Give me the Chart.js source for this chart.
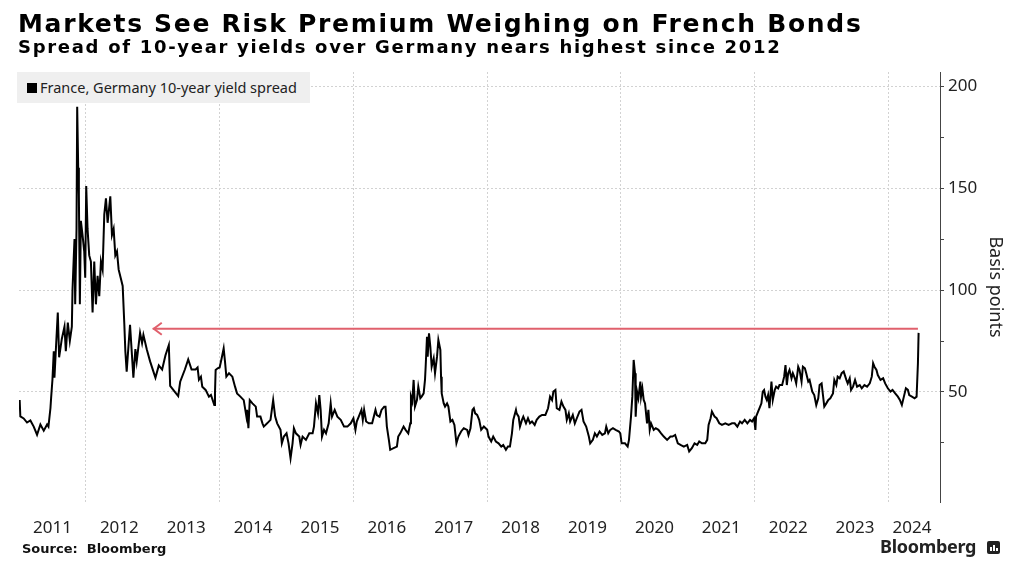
<!DOCTYPE html>
<html lang="en">
<head>
<meta charset="UTF-8">
<title>Markets See Risk Premium Weighing on French Bonds</title>
<script src="https://cdn.jsdelivr.net/npm/chart.js"></script>
<style>
  html, body { margin: 0; padding: 0; background: #fff; }
  body { width: 1024px; height: 584px; position: relative; overflow: hidden; color: #111; }
  #chart { position: absolute; left: 0; top: 0; }
  .title { position: absolute; left: 18px; top: 11px; font: bold 25px/25px "DejaVu Sans", sans-serif; letter-spacing: 1.7px; white-space: nowrap; color: #000; }
  .subtitle { position: absolute; left: 18px; top: 38px; font: bold 18px/18px "DejaVu Sans", sans-serif; letter-spacing: 1.7px; white-space: nowrap; color: #000; }
  .legend { position: absolute; left: 17px; top: 72px; width: 293px; height: 31px; background: #efefef; }
  .legend .sq { position: absolute; left: 10px; top: 11px; width: 10px; height: 10px; background: #000; }
  .legend .txt { position: absolute; left: 23px; top: 6px; font: 14.5px/18px "Noto Sans", sans-serif; color: #222; white-space: nowrap; }
  .source { position: absolute; left: 22px; top: 541px; font: bold 13px/16px "DejaVu Sans", sans-serif; color: #111; white-space: nowrap; }
  .brand { position: absolute; left: 880px; top: 535px; font: bold 18px/22px "Noto Sans", sans-serif; color: #222; white-space: nowrap; letter-spacing: -0.3px; }
  .icon { position: absolute; left: 987px; top: 541px; width: 13px; height: 13px; background: #222; border-radius: 2px; }
  .icon i { position: absolute; bottom: 3px; width: 2px; background: #fff; }
</style>
</head>
<body>
  <canvas id="chart" width="1024" height="584"></canvas>
  <div class="title">Markets See Risk Premium Weighing on French Bonds</div>
  <div class="subtitle">Spread of 10-year yields over Germany nears highest since 2012</div>
  <div class="legend"><div class="sq"></div><div class="txt">France, Germany 10-year yield spread</div></div>
  <div class="source">Source:&nbsp; Bloomberg</div>
  <div class="brand">Bloomberg</div>
  <div class="icon"><i style="left:3px;height:4px"></i><i style="left:6px;height:6px"></i><i style="left:9px;height:3px"></i></div>

<script>
// dates as decimal years, spread in basis points
var dates = [
  2011.00, 2011.01, 2011.02, 2011.07, 2011.12, 2011.17, 2011.22, 2011.27, 2011.32, 2011.37,
  2011.42, 2011.44, 2011.47, 2011.48, 2011.50, 2011.52, 2011.53, 2011.55, 2011.58, 2011.60,
  2011.64, 2011.68, 2011.70, 2011.73, 2011.76, 2011.79, 2011.80, 2011.82, 2011.83, 2011.84,
  2011.86, 2011.87, 2011.885, 2011.895, 2011.91, 2011.925, 2011.95, 2011.975, 2011.99, 2012.005,
  2012.025, 2012.05, 2012.075, 2012.10, 2012.125, 2012.15, 2012.175, 2012.20, 2012.225, 2012.25,
  2012.275, 2012.30, 2012.325, 2012.365, 2012.39, 2012.415, 2012.44, 2012.465, 2012.49, 2012.52,
  2012.55, 2012.575, 2012.59, 2012.61, 2012.64, 2012.66, 2012.71, 2012.74, 2012.76, 2012.81,
  2012.84, 2012.86, 2012.91, 2012.96, 2013.01, 2013.04, 2013.09, 2013.14, 2013.19, 2013.24,
  2013.26, 2013.33, 2013.38, 2013.41, 2013.48, 2013.53, 2013.58,
  2013.64, 2013.67, 2013.69, 2013.72, 2013.74, 2013.79, 2013.84, 2013.87, 2013.92, 2013.93,
  2013.94, 2013.97, 2014.00, 2014.03, 2014.06, 2014.08, 2014.10, 2014.14, 2014.19, 2014.23,
  2014.26, 2014.31, 2014.36, 2014.40, 2014.41, 2014.43, 2014.45, 2014.49, 2014.54, 2014.56,
  2014.61, 2014.64, 2014.66, 2014.71, 2014.76, 2014.80, 2014.83, 2014.86, 2014.91, 2014.93,
  2014.96, 2015.00, 2015.03, 2015.06, 2015.09, 2015.11, 2015.14, 2015.19, 2015.21, 2015.24,
  2015.29, 2015.34, 2015.39, 2015.41, 2015.44, 2015.47, 2015.49, 2015.51, 2015.53, 2015.56,
  2015.59, 2015.63, 2015.66, 2015.68, 2015.72, 2015.76, 2015.81, 2015.86, 2015.91, 2015.96,
  2016.00, 2016.03, 2016.05, 2016.08, 2016.12, 2016.14, 2016.16, 2016.19, 2016.23, 2016.28,
  2016.33, 2016.35, 2016.39, 2016.42, 2016.46, 2016.48, 2016.50, 2016.53, 2016.55, 2016.60,
  2016.65, 2016.67, 2016.70, 2016.75, 2016.78, 2016.82, 2016.85, 2016.86, 2016.88, 2016.90,
  2016.92, 2016.95, 2016.97, 2017.00, 2017.02, 2017.05, 2017.07, 2017.08, 2017.10, 2017.11,
  2017.13, 2017.15, 2017.17, 2017.20, 2017.22, 2017.25, 2017.27, 2017.30, 2017.31, 2017.32,
  2017.35, 2017.37, 2017.40, 2017.42, 2017.45, 2017.48, 2017.51, 2017.54, 2017.57, 2017.61,
  2017.65, 2017.70, 2017.72, 2017.75, 2017.78, 2017.80, 2017.82, 2017.85, 2017.88, 2017.91,
  2017.95, 2018.00, 2018.02, 2018.06, 2018.09, 2018.13, 2018.17, 2018.21, 2018.24, 2018.28,
  2018.31, 2018.34, 2018.37, 2018.39, 2018.43, 2018.44, 2018.47, 2018.49, 2018.52, 2018.54,
  2018.58, 2018.61, 2018.64, 2018.67, 2018.71, 2018.74, 2018.78, 2018.82, 2018.87, 2018.91,
  2018.94, 2018.97, 2018.99,
  2019.02, 2019.04, 2019.08, 2019.11, 2019.14, 2019.17, 2019.19, 2019.22, 2019.24, 2019.28,
  2019.31, 2019.34, 2019.38, 2019.41, 2019.44, 2019.48, 2019.52, 2019.54, 2019.58, 2019.61,
  2019.64, 2019.68, 2019.72, 2019.76, 2019.78, 2019.81, 2019.84, 2019.88, 2019.92, 2019.97,
  2019.99, 2020.01, 2020.06, 2020.10, 2020.12, 2020.15, 2020.17, 2020.19, 2020.21, 2020.22,
  2020.24, 2020.26, 2020.29, 2020.30, 2020.32, 2020.34, 2020.36, 2020.39, 2020.41, 2020.43,
  2020.45, 2020.49, 2020.52, 2020.56, 2020.60, 2020.64, 2020.69, 2020.74, 2020.77, 2020.81,
  2020.85, 2020.89, 2020.94, 2020.99, 2021.02, 2021.06, 2021.10, 2021.14, 2021.17, 2021.21,
  2021.26, 2021.29, 2021.31, 2021.34, 2021.36, 2021.40, 2021.43, 2021.47, 2021.51, 2021.56,
  2021.61, 2021.66,
  2021.70, 2021.74, 2021.78, 2021.81, 2021.85, 2021.89, 2021.93, 2021.96, 2021.99, 2022.01,
  2022.02, 2022.05, 2022.07, 2022.10, 2022.12, 2022.14, 2022.16, 2022.18, 2022.20, 2022.22,
  2022.25, 2022.27, 2022.30, 2022.32, 2022.35, 2022.37, 2022.41, 2022.44, 2022.46, 2022.48,
  2022.50, 2022.52, 2022.55, 2022.57, 2022.60, 2022.62, 2022.65, 2022.67, 2022.70, 2022.72,
  2022.75, 2022.77, 2022.80, 2022.82, 2022.86, 2022.89, 2022.92, 2022.95, 2022.97, 2023.00,
  2023.02, 2023.04, 2023.07, 2023.10, 2023.13, 2023.17, 2023.19, 2023.22, 2023.24, 2023.27,
  2023.30, 2023.33, 2023.37, 2023.39, 2023.42, 2023.44, 2023.47, 2023.50, 2023.53, 2023.57,
  2023.60, 2023.64, 2023.68, 2023.72, 2023.75, 2023.77, 2023.79, 2023.82, 2023.84, 2023.88,
  2023.92, 2023.95, 2023.99, 2024.03, 2024.06, 2024.10, 2024.14, 2024.17, 2024.20, 2024.23,
  2024.26, 2024.29, 2024.31, 2024.35, 2024.39, 2024.42, 2024.44, 2024.45
];
var spread = [
  42, 46, 38, 37, 35, 36, 33, 29, 34, 31,
  34, 33, 42, 47, 56, 70, 57, 70, 89, 67,
  76, 82, 70, 84, 75, 82, 100, 117, 125, 93,
  130, 190, 160, 147, 93, 134, 127, 119, 106, 151,
  130, 117, 114, 89, 114, 93, 107, 97, 114, 110,
  137, 145, 133, 146, 127, 130, 117, 119, 110, 106,
  102, 83, 70, 60, 74, 83, 57, 71, 65, 79,
  74, 78, 71, 65, 60, 57, 63, 61, 68, 73,
  53, 50, 48, 55, 61, 66, 61,
  61, 62, 56, 57.5, 52.6, 51, 47.7, 48.5, 43.6, 49.3,
  60.8, 61.6, 62, 66.5, 71.4, 64.9, 57.5, 59.2, 57.5, 52.6,
  49.3, 47.7, 46, 37.9, 41.2, 32.2, 46, 44.4, 42.8, 37.9,
  37.9, 34.6, 33, 34.6, 36.3, 46, 37.9, 34.6, 31.4, 24.8,
  28.1, 29.7, 24.8, 17.5, 24.8, 32.2, 29.7, 28.1, 24, 28.1,
  26.5, 29.7, 29.7, 33, 44.4, 39.5, 48.5, 41.2, 28.1, 31.4,
  29.7, 34.6, 44.4, 37.9, 41.2, 37.9, 36.3, 33, 33, 34.6,
  37.1, 31.4, 35.5, 37.9, 41.2, 36.3, 41.2, 35.5, 34.6, 34.6,
  41.2, 38.7, 37.9, 41.2, 42.8, 42.8, 33, 26.5, 21.6, 22.4,
  23.2, 28.1, 29.7, 33, 31.4, 29.7, 34.6, 47.7, 45.3, 55.9,
  42.8, 46, 52.6, 46.9, 47.7, 49.3, 55.9, 62.4, 77.1, 67.3,
  78.8, 72.2, 62.4, 66.5, 59.2, 67.3, 75.5, 70.6, 57.5, 49.3,
  44.4, 42.8, 44.4, 42.8, 35.5, 36.3, 33.8, 24.8, 28.1, 30.6,
  32.2, 31.4, 28.9, 32.2, 41.2, 42, 39.5, 38.7, 36.3, 31.4,
  33, 31.4, 28.1, 25.7, 28.1, 25.7, 24.8, 23.2, 24, 21.6,
  23.2, 23.2, 29.7, 36.3, 41.2, 39.5, 37.9, 33, 36.3, 37.9,
  34.6, 37.1, 34.6, 35.5, 33.8, 36.3, 37.9, 38.7, 38.7, 42,
  47.7, 46, 50.2,
  51, 42, 41.2, 45.3, 42.8, 41.2, 36.3, 39.5, 35.5, 38.7,
  34.6, 37.1, 40.4, 41.2, 35.5, 33, 28.1, 24.8, 26.5, 29.7,
  28.1, 30.6, 28.9, 29.7, 33, 29.7, 31.4, 32.2, 31.4, 30.6,
  29.7, 24.8, 24.8, 23.2, 26.5, 37.9, 47.7, 65.7, 59.2, 37.9,
  50.2, 46.9, 55.1, 47.7, 51.8, 46.1, 44.4, 34.6, 41.2, 31.4,
  34.6, 31.4, 32.2, 31.4, 29.7, 28.1, 26.5, 28.1, 28.1, 28.9,
  24.8, 24, 23.2, 24, 20.8, 22.4, 24.8, 24, 25.7, 24.8,
  24.8, 26.5, 33.8, 37.1, 40.4, 37.9, 37.1, 34.6, 33.8, 34.6,
  33.8, 34.6,
  34.6, 33, 35.5, 34.6, 36.3, 34.6, 36.3, 35.5, 37.1, 31.4,
  37.9, 40.4, 42, 44.4, 50.2, 51, 47.7, 46.1, 48.5, 42,
  55.1, 46.1, 51, 52.6, 51.8, 53.4, 53.4, 57.5, 63.2, 53.4,
  59.2, 60.8, 56.7, 59.2, 56.7, 54.2, 62.4, 60.8, 55.1, 62.4,
  61.6, 59.2, 55.1, 55.9, 50.2, 48.5, 43.6, 46.9, 53.4, 54.2,
  48.5, 42.8, 44.4, 46.1, 46.9, 49.3, 55.9, 53.4, 57.5, 56.7,
  59.2, 60, 55.9, 54.2, 56.7, 51, 52.6, 55.9, 52.6, 53.4,
  51.8, 53.4, 52.6, 54.2, 57.5, 64.1, 62.4, 60.8, 58.3, 55.9,
  56.7, 54.2, 51.8, 50.2, 51, 49.3, 47.7, 46.1, 43.6, 47.7,
  51.8, 51, 48.5, 47.7, 46.9, 47.7, 64.1, 79
];

var gridYears = [2012, 2014, 2016, 2018, 2020, 2022, 2024];
var labelYears = [2011.5, 2012.5, 2013.5, 2014.5, 2015.5, 2016.5, 2017.5, 2018.5, 2019.5, 2020.5, 2021.5, 2022.5, 2023.5, 2024.35];
var yTicks = [25, 50, 75, 100, 125, 150, 175, 200];
var yLabels = [50, 100, 150, 200];
var arrowDates = [2013.0, 2024.44];
var arrowLevel = [81, 81];

var xMin = 2011.0, xMax = 2024.77;
var red = '#e0606c';

var points = dates.map(function (d, i) { return { x: d, y: spread[i] }; });
var arrowPoints = arrowDates.map(function (d, i) { return { x: d, y: arrowLevel[i] }; });

// open chevron at the left end of the red line
var arrowHead = {
  id: 'arrowHead',
  afterDatasetsDraw: function (chart) {
    var pt = chart.getDatasetMeta(1).data[0];
    var c = chart.ctx;
    c.save();
    c.strokeStyle = red;
    c.lineWidth = 2;
    c.beginPath();
    c.moveTo(pt.x + 9, pt.y - 6);
    c.lineTo(pt.x + 1, pt.y);
    c.lineTo(pt.x + 9, pt.y + 6);
    c.stroke();
    c.restore();
  }
};

var tickFont = { family: 'Noto Sans', size: 17 };

new Chart(document.getElementById('chart'), {
  type: 'line',
  data: {
    datasets: [{
      label: 'France, Germany 10-year yield spread',
      data: points,
      borderColor: '#000',
      borderWidth: 2,
      pointRadius: 0,
      tension: 0,
      xAxisID: 'x',
      yAxisID: 'y'
    }, {
      label: 'arrow',
      data: arrowPoints,
      borderColor: red,
      borderWidth: 2,
      pointRadius: 0,
      xAxisID: 'x',
      yAxisID: 'y'
    }]
  },
  options: {
    responsive: false,
    animation: false,
    devicePixelRatio: 1,
    layout: { padding: { left: 19, top: 72, right: 0, bottom: 0 } },
    plugins: { legend: { display: false }, tooltip: { enabled: false } },
    scales: {
      x: {
        type: 'linear', position: 'bottom', min: xMin, max: xMax,
        afterBuildTicks: function (s) { s.ticks = gridYears.map(function (v) { return { value: v }; }); },
        afterFit: function (s) { s.height = 0; },
        ticks: { display: false },
        grid: { color: '#d2d2d2', lineWidth: 1, drawTicks: false },
        border: { display: false, dash: [2, 2] }
      },
      xl: {
        type: 'linear', position: 'bottom', min: xMin, max: xMax,
        afterBuildTicks: function (s) { s.ticks = labelYears.map(function (v) { return { value: v }; }); },
        afterFit: function (s) { s.height = 82; },
        ticks: {
          autoSkip: false, maxRotation: 0, padding: 16, color: '#222', font: tickFont,
          callback: function (v) { return String(Math.floor(v)); }
        },
        grid: { display: false, drawTicks: false },
        border: { display: false }
      },
      y: {
        type: 'linear', position: 'right', min: -4, max: 207,
        afterBuildTicks: function (s) { s.ticks = yTicks.map(function (v) { return { value: v }; }); },
        afterFit: function (s) { s.width = 84; },
        ticks: {
          padding: 4, color: '#222', font: tickFont,
          callback: function (v) { return yLabels.indexOf(v) >= 0 ? String(v) : ''; }
        },
        grid: {
          color: function (ctx) { return ctx.tick && yLabels.indexOf(ctx.tick.value) >= 0 ? '#d2d2d2' : 'rgba(0,0,0,0)'; },
          tickColor: '#444', tickLength: 4, lineWidth: 1
        },
        border: { display: true, color: '#444', width: 1, dash: [2, 2] },
        title: {
          display: true, text: 'Basis points', color: '#222',
          font: { family: 'Noto Sans', size: 18 }, padding: { top: 18, bottom: 0 }
        }
      }
    }
  },
  plugins: [arrowHead]
});
</script>
</body>
</html>
